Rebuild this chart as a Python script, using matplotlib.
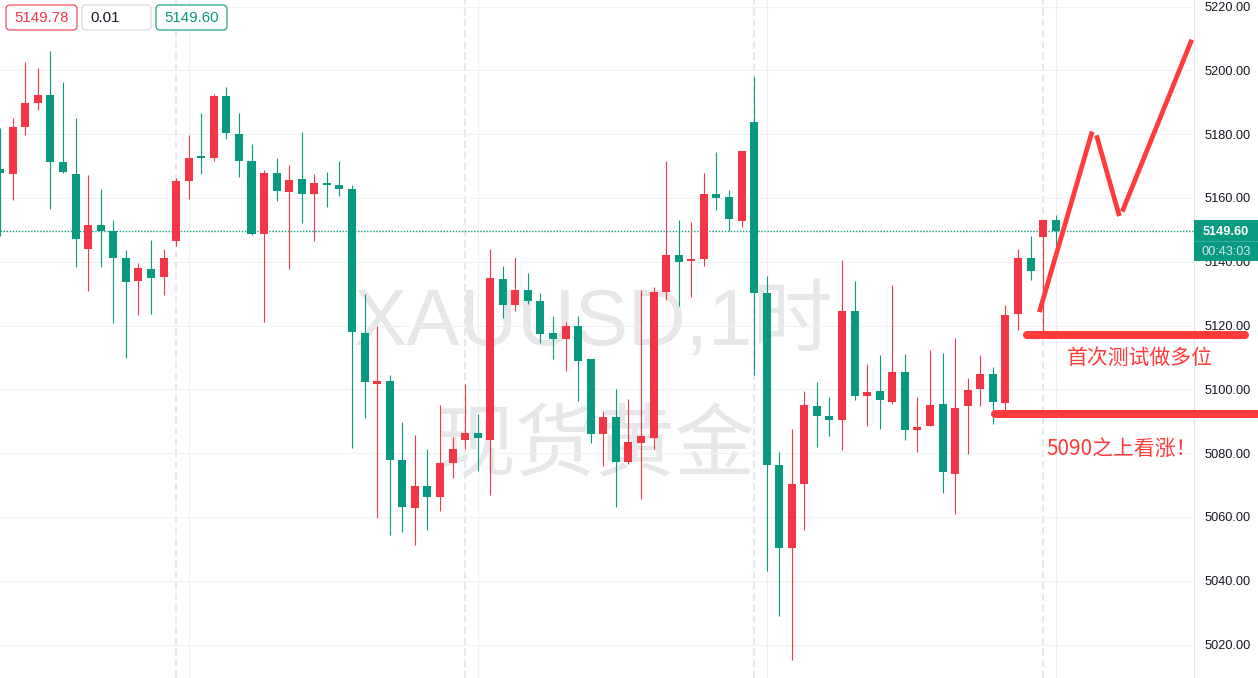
import matplotlib
matplotlib.use('Agg')
import matplotlib.pyplot as plt
from matplotlib.patches import FancyBboxPatch, Rectangle

plt.rcParams['font.family'] = ['Liberation Sans', 'Noto Sans CJK SC']

# ---------------- data (XAUUSD 1h candles) ----------------
opens = [5169.1, 5167.5, 5182.2, 5189.8, 5192.3, 5171.3, 5167.5, 5144.0, 5151.5, 5149.6,
         5141.2, 5134.0, 5137.7, 5135.2, 5146.5, 5165.3, 5172.8, 5172.5, 5192.0, 5180.0,
         5171.6, 5148.7, 5167.8, 5161.9, 5165.9, 5161.2, 5164.7, 5164.1, 5162.8, 5117.7,
         5101.7, 5102.6, 5077.8, 5062.8, 5069.7, 5066.2, 5076.9, 5084.1, 5086.3, 5084.1,
         5134.6, 5126.4, 5131.1, 5127.7, 5117.7, 5115.8, 5119.9, 5109.5, 5086.0, 5091.3,
         5077.2, 5083.2, 5084.7, 5130.5, 5142.1, 5140.2, 5140.9, 5161.2, 5160.3, 5152.8,
         5183.8, 5130.2, 5076.3, 5050.3, 5070.3, 5094.8, 5091.6, 5090.4, 5124.5, 5097.9,
         5099.5, 5096.0, 5105.4, 5087.2, 5088.5, 5095.4, 5073.5, 5094.8, 5100.1, 5104.8,
         5095.7, 5123.6, 5141.2, 5147.8, 5153.1]
highs = [5182.0, 5185.1, 5202.6, 5200.7, 5206.1, 5196.3, 5185.1, 5167.2, 5162.8, 5153.1,
         5143.7, 5139.6, 5146.8, 5144.0, 5166.2, 5179.7, 5186.6, 5192.6, 5194.8, 5186.6,
         5176.9, 5168.8, 5172.5, 5170.3, 5180.7, 5167.5, 5168.1, 5171.6, 5164.1, 5129.9,
         5119.9, 5104.5, 5089.8, 5085.7, 5081.3, 5095.1, 5085.1, 5101.7, 5092.3, 5144.0,
         5138.7, 5141.5, 5136.5, 5130.2, 5123.0, 5121.1, 5123.0, 5109.5, 5093.2, 5100.1,
         5097.0, 5131.1, 5132.1, 5171.6, 5153.1, 5152.5, 5167.8, 5174.4, 5162.5, 5174.7,
         5197.9, 5135.5, 5080.4, 5087.6, 5099.5, 5102.3, 5097.6, 5140.5, 5134.0, 5107.9,
         5110.8, 5132.7, 5111.1, 5097.6, 5112.3, 5111.4, 5116.1, 5103.5, 5110.8, 5107.0,
         5126.4, 5144.0, 5148.1, 5153.1, 5154.6]
lows = [5148.2, 5159.3, 5179.7, 5187.6, 5156.5, 5167.8, 5138.3, 5130.8, 5138.3, 5120.8,
        5109.8, 5123.3, 5123.6, 5129.6, 5144.9, 5159.7, 5167.5, 5171.6, 5178.5, 5166.6,
        5148.4, 5121.1, 5159.0, 5137.7, 5152.1, 5146.5, 5157.2, 5160.6, 5081.6, 5091.0,
        5059.7, 5054.3, 5055.3, 5051.2, 5055.9, 5061.9, 5072.2, 5081.3, 5074.4, 5066.9,
        5122.4, 5124.6, 5126.7, 5114.5, 5109.5, 5105.7, 5096.3, 5083.2, 5076.0, 5063.1,
        5076.6, 5065.6, 5081.3, 5128.0, 5126.1, 5128.9, 5138.7, 5156.2, 5149.6, 5150.9,
        5104.5, 5043.0, 5028.9, 5015.1, 5055.9, 5081.9, 5085.4, 5081.0, 5096.6, 5088.5,
        5087.6, 5095.4, 5084.1, 5080.4, 5088.5, 5067.5, 5060.9, 5079.7, 5094.8, 5089.1,
        5093.2, 5118.6, 5134.3, 5118.0, 5145.2]
closes = [5167.7, 5182.2, 5189.8, 5192.3, 5171.3, 5168.1, 5147.1, 5151.5, 5149.6, 5141.2,
          5133.6, 5138.0, 5134.9, 5141.2, 5165.3, 5172.5, 5172.5, 5192.0, 5180.3, 5171.6,
          5148.7, 5167.8, 5162.2, 5165.6, 5161.2, 5164.7, 5164.1, 5162.8, 5118.0, 5102.3,
          5102.6, 5077.8, 5063.1, 5069.7, 5066.2, 5076.9, 5081.3, 5086.3, 5084.7, 5134.9,
          5126.4, 5131.1, 5127.7, 5117.3, 5115.8, 5119.9, 5108.9, 5086.0, 5091.3, 5077.2,
          5083.5, 5085.4, 5130.5, 5142.1, 5139.9, 5140.9, 5161.2, 5160.0, 5153.4, 5174.7,
          5130.2, 5076.3, 5050.3, 5070.3, 5095.1, 5091.6, 5090.4, 5124.5, 5097.9, 5099.2,
          5096.6, 5105.4, 5087.2, 5088.2, 5095.1, 5074.1, 5094.1, 5099.8, 5104.8, 5096.0,
          5123.3, 5141.2, 5137.1, 5153.1, 5149.6]

price_ticks = [5020, 5040, 5060, 5080, 5100, 5120, 5140, 5160, 5180, 5200, 5220]
session_break_idx = [14, 37, 60, 83]
time_grid_idx = [15, 38, 61, 84]

top_labels = ['5149.78', '0.01', '5149.60']
countdown = '00:43:03'
watermark_lines = ['XAUUSD,1时', '现货黄金']

# hand-drawn annotation (bar index, price)
forecast_segments = [
    [(82.7, 5124.2), (86.9, 5180.8)],
    [(87.25, 5179.6), (89.07, 5154.3)],
    [(89.3, 5155.7), (94.83, 5209.6)],
]
support_levels = [5117.0, 5092.3]
support_spans = [(81.7, 99.1), (79.2, 100.0)]
note_texts = ['首次测试做多位', '5090之上看涨！']

# ---------------- styling ----------------
UP = '#F23645'
DOWN = '#089981'
ANNO = '#FF3B3B'
W, H = 1258, 678
PLOT_W = 1194

fig = plt.figure(figsize=(W / 100, H / 100), dpi=100)
fig.patch.set_facecolor('white')
ax = fig.add_axes([0, 0, PLOT_W / W, 1])
ax.set_facecolor('white')

n = len(opens)
xs = list(range(n))
ax.set_xlim(-0.016, 95.01)
ax.set_ylim(5009.5, 5222.04)

# grid
ax.set_yticks(price_ticks)
ax.set_yticklabels([f'{t:.2f}' for t in price_ticks])
ax.yaxis.tick_right()
ax.tick_params(axis='y', length=0, pad=7.5, labelsize=9.2, labelcolor='#131722')
ax.set_xticks([])
ax.grid(axis='y', color='#f0f1f4', lw=0.8, zorder=0)
ax.set_axisbelow(True)
for xi in time_grid_idx:
    ax.axvline(xi, color='#eef0f4', lw=0.8, zorder=0)
for xi in session_break_idx:
    ax.axvline(xi, color='#e6e8ed', lw=1.5, ls=(0, (3.5, 1.8)), zorder=0)

for s in ['top', 'left', 'bottom']:
    ax.spines[s].set_visible(False)
ax.spines['right'].set_color('#e0e3eb')
ax.spines['right'].set_linewidth(0.8)

# watermark
ax.text(593 / PLOT_W, 1 - 345 / H, watermark_lines[0], transform=ax.transAxes,
        ha='center', va='baseline', fontsize=57.5, color='#e7e7e9', zorder=0.5)
ax.text(595 / PLOT_W, 1 - 470 / H, watermark_lines[1], transform=ax.transAxes,
        ha='center', va='baseline', fontsize=57.5, color='#e7e7e9', zorder=0.5,
        family=['Noto Sans CJK SC'])

# last price dotted line
ax.axhline(closes[-1], color=DOWN, lw=1.0, ls=(0, (1, 1.2)), zorder=1)

# candles
colors = [UP if c >= o else DOWN for o, c in zip(opens, closes)]
ax.vlines(xs, lows, highs, colors=colors, lw=0.8, zorder=2)
bottoms = [min(o, c) for o, c in zip(opens, closes)]
heights = [max(abs(c - o), 0.6) for o, c in zip(opens, closes)]
ax.bar(xs, heights, bottom=bottoms, width=0.637, color=colors, lw=0, zorder=3)

# annotations
for seg in forecast_segments:
    ax.plot([p[0] for p in seg], [p[1] for p in seg], color=ANNO, lw=3.4,
            solid_capstyle='butt', zorder=5, clip_on=False)
for lvl, (x0, x1) in zip(support_levels, support_spans):
    ax.plot([x0, x1], [lvl, lvl], color=ANNO, lw=5.8, solid_capstyle='round',
            zorder=5, clip_on=False)

# overlay in pixel coordinates
ov = fig.add_axes([0, 0, 1, 1], zorder=10)
ov.set_xlim(0, W)
ov.set_ylim(H, 0)
ov.axis('off')
ov.patch.set_alpha(0)

box_specs = [(6, 77, UP, UP), (82, 151, '#d1d4dc', '#131722'), (156, 227, DOWN, DOWN)]
for (x0, x1, ec, tc), lab in zip(box_specs, top_labels):
    ov.add_patch(FancyBboxPatch((x0, 5), x1 - x0, 25,
                                boxstyle='round,pad=0,rounding_size=4',
                                fc='white', ec=ec, lw=0.8))
    ov.text(x0 + 8, 18, lab, ha='left', va='center', fontsize=10.8, color=tc)

# current price label
ypx = H - ax.transData.transform((0, closes[-1]))[1]
ov.add_patch(Rectangle((PLOT_W, ypx - 11), W - PLOT_W, 41, fc=DOWN, ec='none'))
ov.plot([PLOT_W, W], [ypx + 10, ypx + 10], color='#3aae98', lw=0.8)
ov.text((PLOT_W + W) / 2, ypx + 0.5, f'{closes[-1]:.2f}', ha='center', va='center',
        fontsize=9.2, color='white', fontweight='bold')
ov.text((PLOT_W + W) / 2, ypx + 20.5, countdown, ha='center', va='center',
        fontsize=9.2, color='#cfeae4')

# notes
ov.text(1140, 358, note_texts[0], ha='center', va='center', fontsize=15,
        color=ANNO, family=['Noto Sans CJK SC'])
ov.text(1046, 449, note_texts[1], ha='left', va='center', fontsize=15,
        color=ANNO, family=['Noto Sans CJK SC'])

fig.savefig('out.png', dpi=100, facecolor='white')
